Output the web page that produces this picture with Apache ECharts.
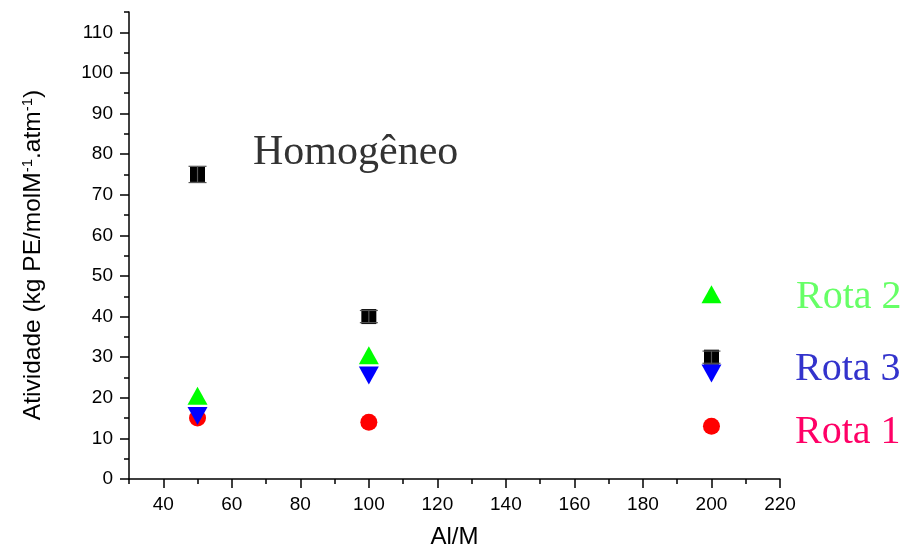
<!DOCTYPE html>
<html>
<head>
<meta charset="utf-8">
<script src="https://cdn.jsdelivr.net/npm/echarts@6/dist/echarts.min.js"></script>
<style>
  html, body { margin: 0; padding: 0; background: #fff; }
  #chart { width: 904px; height: 554px; }
</style>
</head>
<body>
<div id="chart"></div>
<script>
// Al/M ratios tested
const alM = [50, 100, 200];
// Activity, kg PE/(molM·atm)
const homogeneo = [75, 40, 30];
const homogeneoErr = [2, 1.5, 1.5];
const rota1 = [15, 14, 13];
const rota2 = [20.5, 30.5, 45.5];
const rota3 = [15.5, 25.5, 26];

// Axis ticks
const xMajorTicks = [40, 60, 80, 100, 120, 140, 160, 180, 200, 220];
const xMinorTicks = [30, 50, 70, 90, 110, 130, 150, 170, 190, 210];
const yMajorTicks = [0, 10, 20, 30, 40, 50, 60, 70, 80, 90, 100, 110];
const yMinorTicks = [5, 15, 25, 35, 45, 55, 65, 75, 85, 95, 105, 115];

const seriesLabels = [
  { text: 'Homogêneo', color: '#333333', x: 253, y: 153, size: 42 },
  { text: 'Rota 2', color: '#66ff66', x: 796, y: 297, size: 40 },
  { text: 'Rota 3', color: '#3333cc', x: 795, y: 369, size: 40 },
  { text: 'Rota 1', color: '#ff0066', x: 795, y: 432, size: 40 }
];

const pairs = (xs, ys) => xs.map((x, i) => [x, ys[i]]);

const chart = echarts.init(document.getElementById('chart'), null, { renderer: 'canvas' });

const sans = '"Liberation Sans", Arial, sans-serif';
const axisFont = { fontFamily: sans, fontSize: 19, color: '#000' };

const baseX = {
  type: 'value', min: 30, max: 220, interval: 10,
  splitLine: { show: false }
};
const baseY = {
  type: 'value', min: 0, max: 115, interval: 5,
  splitLine: { show: false }
};

chart.setOption({
  animation: false,
  backgroundColor: '#fff',
  grid: { left: 129, right: 124, top: 12, bottom: 72, containLabel: false },
  xAxis: [
    Object.assign({}, baseX, {
      position: 'bottom',
      name: 'Al/M',
      nameLocation: 'middle',
      nameGap: 46,
      nameTextStyle: { fontFamily: sans, fontSize: 24, color: '#000' },
      axisLine: { show: true, onZero: false, lineStyle: { color: '#000', width: 1.5 } },
      axisTick: { show: true, inside: false, length: 9, customValues: xMajorTicks, lineStyle: { color: '#000', width: 1.5 } },
      axisLabel: Object.assign({ margin: 16, customValues: xMajorTicks }, axisFont)
    }),
    Object.assign({}, baseX, {
      position: 'bottom',
      axisLine: { show: false, onZero: false },
      axisTick: { show: true, inside: false, length: 5, customValues: xMinorTicks, lineStyle: { color: '#000', width: 1.5 } },
      axisLabel: { show: false }
    })
  ],
  yAxis: [
    Object.assign({}, baseY, {
      position: 'left',
      axisLine: { show: true, onZero: false, lineStyle: { color: '#000', width: 1.5 } },
      axisTick: { show: true, inside: false, length: 9, customValues: yMajorTicks, lineStyle: { color: '#000', width: 1.5 } },
      axisLabel: Object.assign({ margin: 16, customValues: yMajorTicks }, axisFont)
    }),
    Object.assign({}, baseY, {
      position: 'left',
      axisLine: { show: false, onZero: false },
      axisTick: { show: true, inside: false, length: 5, customValues: yMinorTicks, lineStyle: { color: '#000', width: 1.5 } },
      axisLabel: { show: false }
    })
  ],
  series: [
    {
      name: 'Homogêneo', type: 'scatter',
      data: pairs(alM, homogeneo),
      symbol: 'rect', symbolSize: 15,
      itemStyle: { color: '#000', opacity: 1 }, z: 2
    },
    {
      name: 'Homogêneo erro', type: 'custom',
      data: alM.map((x, i) => [x, homogeneo[i], homogeneoErr[i]]),
      encode: { x: 0, y: 1 },
      z: 3,
      renderItem: function (params, api) {
        const x = api.value(0), y = api.value(1), e = api.value(2);
        const top = api.coord([x, y + e]);
        const bot = api.coord([x, y - e]);
        const hw = 9;
        const st = { stroke: '#555', lineWidth: 1.2 };
        return {
          type: 'group',
          children: [
            { type: 'line', shape: { x1: top[0], y1: top[1], x2: bot[0], y2: bot[1] }, style: st },
            { type: 'line', shape: { x1: top[0] - hw, y1: top[1], x2: top[0] + hw, y2: top[1] }, style: st },
            { type: 'line', shape: { x1: bot[0] - hw, y1: bot[1], x2: bot[0] + hw, y2: bot[1] }, style: st }
          ]
        };
      }
    },
    {
      name: 'Rota 1', type: 'scatter',
      data: pairs(alM, rota1),
      symbol: 'circle', symbolSize: 17,
      itemStyle: { color: '#ff0000', opacity: 1 }, z: 4
    },
    {
      name: 'Rota 2', type: 'scatter',
      data: pairs(alM, rota2),
      symbol: 'triangle', symbolSize: [20, 18],
      itemStyle: { color: '#00ff00', opacity: 1 }, z: 5
    },
    {
      name: 'Rota 3', type: 'scatter',
      data: pairs(alM, rota3),
      symbol: 'triangle', symbolSize: [20, 18], symbolRotate: 180,
      itemStyle: { color: '#0000ff', opacity: 1 }, z: 6
    }
  ],
  graphic: [
    {
      type: 'text',
      x: 33, y: 255,
      rotation: Math.PI / 2,
      style: {
        text: 'Atividade (kg PE/molM{sup|-1}.atm{sup|-1})',
        font: '24.5px ' + sans,
        fill: '#000',
        align: 'center',
        verticalAlign: 'middle',
        rich: {
          sup: { fontSize: 15, fontFamily: sans, verticalAlign: 'top', lineHeight: 15, fill: '#000' }
        }
      }
    }
  ].concat(seriesLabels.map(l => ({
    type: 'text',
    x: l.x, y: l.y,
    style: {
      text: l.text,
      font: l.size + 'px "Liberation Serif", "Times New Roman", serif',
      fill: l.color,
      align: 'left',
      verticalAlign: 'middle'
    }
  })))
});
</script>
</body>
</html>
